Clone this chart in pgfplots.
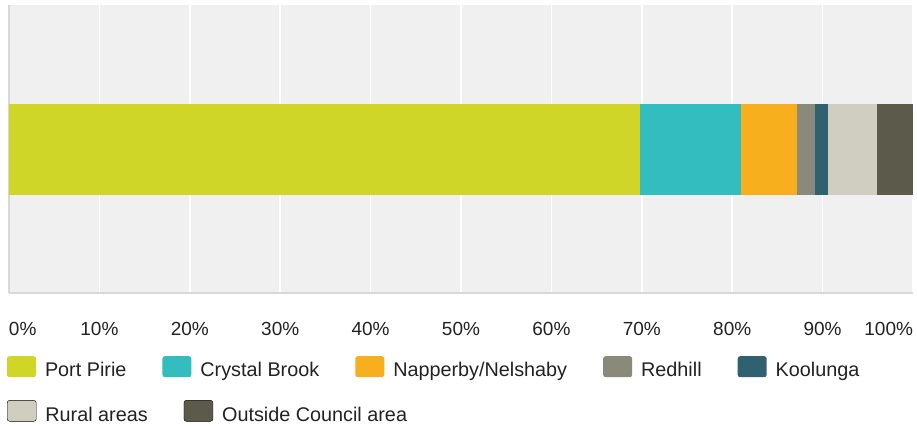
\documentclass[border=0pt]{standalone}
\usepackage{fontspec}
\setmainfont{Liberation Sans}
\usepackage{pgfplots}
\pgfplotsset{compat=1.18}
\definecolor{cPP}{HTML}{D0D628}
\definecolor{cCB}{HTML}{33BDBF}
\definecolor{cNN}{HTML}{F7AF1E}
\definecolor{cRH}{HTML}{8A8A7A}
\definecolor{cKO}{HTML}{2F6170}
\definecolor{cRU}{HTML}{D0CEC0}
\definecolor{cOC}{HTML}{5C5A4B}
\definecolor{bgc}{HTML}{F0F0F0}
\definecolor{axc}{HTML}{D8D8D8}
\definecolor{txt}{HTML}{222222}
\begin{document}
\fontsize{19bp}{22bp}\selectfont
\begin{tikzpicture}
\pgfplotsset{
  sqlegend/.style={legend image code/.code={\fill[##1, rounded corners=2.5bp] (0bp,-6bp) rectangle (29bp,15bp);}},
  mylegend/.style={legend columns=-1,
    legend style={draw=none, fill=none, inner sep=0pt, outer sep=0pt, anchor=west,
      font=\fontsize{19.8bp}{22bp}\selectfont, text=txt,
      nodes={inner sep=0pt, outer sep=0pt},
      /tikz/every odd column/.append style={column sep=9bp},
      /tikz/every even column/.append style={column sep=36bp}},
    legend cell align=left},
  base/.style={at={(9bp,-293bp)}, anchor=south west, scale only axis,
    width=904bp, height=288bp, xmin=0, xmax=100, ymin=0, ymax=1}
}
\begin{axis}[base,
  xbar stacked, bar width=91bp,
  ytick=\empty,
  xtick={0,10,...,100},
  xticklabels={\makebox[0pt][l]{0\%},10\%,20\%,30\%,40\%,50\%,60\%,70\%,80\%,90\%,\makebox[0pt][r]{100\%}},
  xmajorgrids,
  major grid style={white, line width=1.6bp},
  axis background/.style={fill=bgc},
  axis x line*=bottom, axis y line*=left,
  axis line style={draw=axc, line width=2bp, -},
  major tick length=0pt,
  xticklabel style={anchor=base, yshift=-42bp, inner sep=0pt, font=\fontsize{19bp}{22bp}\selectfont, text=txt},
  mylegend,
  legend style={at={(axis description cs:-0.0022,-0.2604)}}
]
\addplot[fill=cPP, draw=none, sqlegend] coordinates {(69.8,0.5)};
\addlegendentry{Port Pirie}
\addplot[fill=cCB, draw=none, sqlegend] coordinates {(11.2,0.5)};
\addlegendentry{Crystal Brook}
\addplot[fill=cNN, draw=none, sqlegend] coordinates {(6.2,0.5)};
\addlegendentry{Napperby/Nelshaby}
\addplot[fill=cRH, draw=none, sqlegend] coordinates {(2.0,0.5)};
\addlegendentry{Redhill}
\addplot[fill=cKO, draw=none, sqlegend] coordinates {(1.4,0.5)};
\addlegendentry{Koolunga}
\addplot[fill=cRU, draw=none, sqlegend, forget plot] coordinates {(5.4,0.5)};
\addplot[fill=cOC, draw=none, sqlegend, forget plot] coordinates {(4.0,0.5)};
\end{axis}
\begin{axis}[base, hide axis, sqlegend, mylegend,
  legend style={at={(axis description cs:-0.0022,-0.4132)}}]
\addlegendimage{fill=cRU}
\addlegendentry{Rural areas}
\addlegendimage{fill=cOC}
\addlegendentry{Outside Council area}
\end{axis}
\pgfresetboundingbox
\path (0,0) rectangle (917bp,-427bp);
\end{tikzpicture}
\end{document}
